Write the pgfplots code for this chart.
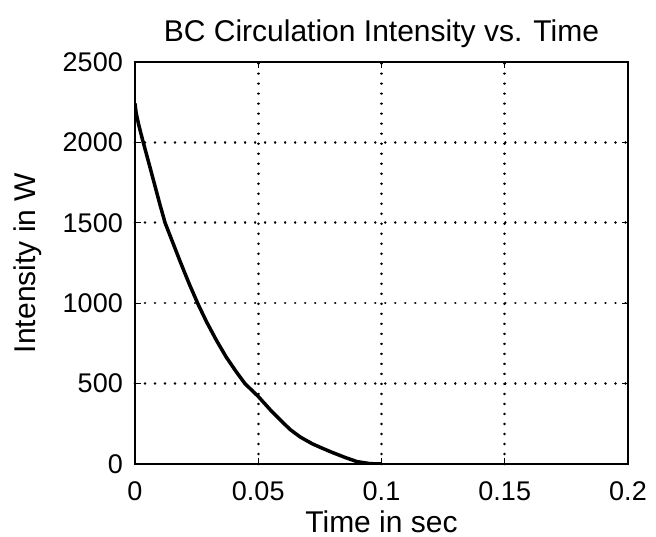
\documentclass[border=0pt]{standalone}
\usepackage{fontspec}
\setmainfont{Liberation Sans}
\usepackage{pgfplots}
\pgfplotsset{compat=1.18}
\begin{document}
\begin{tikzpicture}
\begin{axis}[
  scale only axis,
  width=493pt, height=402pt,
  xmin=0, xmax=0.2, ymin=0, ymax=2500,
  xtick={0,0.05,0.1,0.15,0.2},
  xticklabels={0,0.05,0.1,0.15,0.2},
  ytick={0,500,1000,1500,2000,2500},
  tick align=inside,
  major tick length=6pt,
  tick style={black, line width=1.2pt},
  axis line style={line width=2.4pt},
  grid=major,
  grid style={black, line width=2.6pt, dash pattern=on 0.01pt off 10pt, line cap=round},
  /pgf/number format/assume math mode=true,
  /pgf/number format/1000 sep={},
  scaled x ticks=false,
  ticklabel style={font=\fontsize{27}{29}\selectfont, inner sep=0pt},
  xticklabel style={anchor=north, yshift=-17pt, text depth=0pt},
  yticklabel style={anchor=east, xshift=-12pt},
  title={BC Circulation Intensity vs. Time},
  title style={font=\fontsize{30}{32}\selectfont, at={(axis description cs:0.5,1.0373)}, anchor=base},
  xlabel={Time in sec},
  ylabel={Intensity in W},
  label style={font=\fontsize{30}{32}\selectfont, inner sep=0pt},
  xlabel style={at={(axis description cs:0.5,-0.1692)}, anchor=base},
  ylabel style={at={(axis description cs:-0.2028,0.5)}, anchor=base},
]
\addplot[black, line width=3.5pt, line join=round, line cap=round] coordinates {
(0,2240) (0.0005,2180) (0.0015,2110) (0.003,2020) (0.006,1850) (0.01,1620)
(0.0122,1500) (0.015,1390) (0.0183,1260) (0.022,1120) (0.0257,990)
(0.029,885) (0.033,770) (0.037,665) (0.041,575) (0.0446,500) (0.05,420)
(0.055,335) (0.06,258) (0.0629,215) (0.067,168) (0.072,125) (0.076,98)
(0.08,72) (0.085,42) (0.09,15) (0.095,3) (0.098,0) (0.1,0)
};
\end{axis}
\pgfresetboundingbox
\path ([shift={(-135pt,-73pt)}]current axis.south west) rectangle ([shift={(28pt,62pt)}]current axis.north east);
\end{tikzpicture}
\end{document}
